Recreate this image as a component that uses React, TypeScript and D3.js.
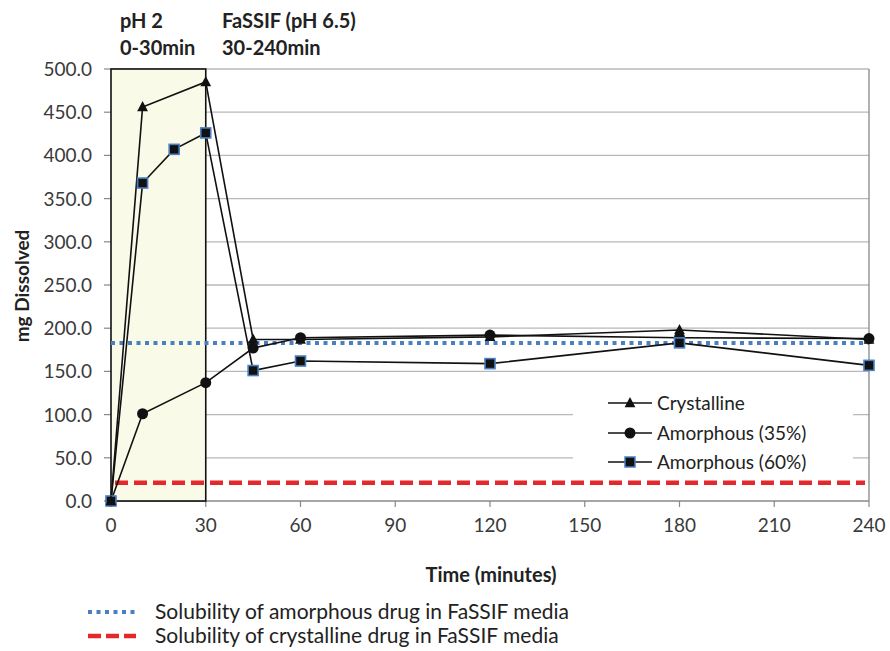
import React from "react";
import * as d3 from "d3";

const crystalline: [number, number][] = [[0, 0], [10, 456], [30, 485], [45, 187], [60, 187], [120, 190], [180, 198], [240, 187]];
const amorphous35: [number, number][] = [[0, 0], [10, 101], [30, 137], [45, 177], [60, 189], [120, 192], [180, 189], [240, 188]];
const amorphous60: [number, number][] = [[0, 0], [10, 368], [20, 407], [30, 426], [45, 151], [60, 162], [120, 159], [180, 183], [240, 157]];
const xTicks = [0, 30, 60, 90, 120, 150, 180, 210, 240];
const yTicks = [0, 50, 100, 150, 200, 250, 300, 350, 400, 450, 500];
const amorphousSolubility = 183;
const crystallineSolubility = 21;
const seriesNames = ["Crystalline", "Amorphous (35%)", "Amorphous (60%)"];
const bottomLegend = ["Solubility of amorphous drug in FaSSIF media", "Solubility of crystalline drug in FaSSIF media"];

const FONT = "Lato, 'Open Sans', sans-serif";

export default function App() {
  const W = 890, H = 651;
  const x = d3.scaleLinear().domain([0, 240]).range([111, 869]);
  const y = d3.scaleLinear().domain([0, 500]).range([501, 69]);
  const line = d3.line<[number, number]>().x(d => x(d[0])).y(d => y(d[1]));
  const grid = "#b8b8b8";
  const tri = (cx: number, cy: number, s = 6) => `M${cx},${cy - s}L${cx + s * 0.9},${cy + s * 0.7}L${cx - s * 0.9},${cy + s * 0.7}Z`;

  const legX = 608;
  const legYs = [403, 433, 462];

  return (
    <svg width={W} height={H} style={{ position: "absolute", left: 0, top: 0, background: "#fff" }} fontFamily={FONT}>
      <rect width={W} height={H} fill="#fff" />
      {yTicks.map(t => (
        <g key={t}>
          <line x1={x(0)} x2={x(240)} y1={y(t)} y2={y(t)} stroke={t === 0 ? "#888" : grid} strokeWidth={1.3} />
          <line x1={x(0) - 7} x2={x(0)} y1={y(t)} y2={y(t)} stroke="#888" strokeWidth={1.2} />
          <text x={92} y={y(t) + 7} textAnchor="end" fontSize={19} fill="#3a3a3a">{t.toFixed(1)}</text>
        </g>
      ))}
      <line x1={x(240)} x2={x(240)} y1={y(500)} y2={y(0)} stroke="#888" strokeWidth={1.3} />
      {xTicks.map(t => (
        <g key={t}>
          <line x1={x(t)} x2={x(t)} y1={y(0)} y2={y(0) + 6} stroke="#888" strokeWidth={1.2} />
          <text x={x(t)} y={532} textAnchor="middle" fontSize={19} fill="#3a3a3a">{t}</text>
        </g>
      ))}
      <rect x={x(0)} y={y(500)} width={x(30) - x(0)} height={y(0) - y(500)} fill="#fafae8" stroke="#111" strokeWidth={1.6} />
      <rect x={573} y={380} width={280} height={96} fill="#fff" />
      <line x1={x(0)} x2={x(240)} y1={y(amorphousSolubility)} y2={y(amorphousSolubility)} stroke="#4a7fc4" strokeWidth={4} strokeDasharray="4 4.5" />
      <line x1={x(0) + 4} x2={x(240) - 4} y1={y(crystallineSolubility)} y2={y(crystallineSolubility)} stroke="#e4282b" strokeWidth={4.5} strokeDasharray="13 6" />
      <path d={line(amorphous35) || ""} fill="none" stroke="#111" strokeWidth={1.6} />
      <path d={line(amorphous60) || ""} fill="none" stroke="#111" strokeWidth={1.6} />
      <path d={line(crystalline) || ""} fill="none" stroke="#111" strokeWidth={1.6} />
      {amorphous35.map((d, i) => <circle key={"c" + i} cx={x(d[0])} cy={y(d[1])} r={5.5} fill="#111" />)}
      {amorphous60.map((d, i) => <rect key={"s" + i} x={x(d[0]) - 5} y={y(d[1]) - 5} width={10} height={10} fill="#111" stroke="#4a7fc4" strokeWidth={1.6} />)}
      {crystalline.map((d, i) => <path key={"t" + i} d={tri(x(d[0]), y(d[1]))} fill="#111" />)}
      {seriesNames.map((n, i) => (
        <g key={n}>
          <line x1={legX} x2={legX + 44} y1={legYs[i]} y2={legYs[i]} stroke="#111" strokeWidth={1.6} />
          {i === 0 && <path d={tri(legX + 22, legYs[i])} fill="#111" />}
          {i === 1 && <circle cx={legX + 22} cy={legYs[i]} r={5.5} fill="#111" />}
          {i === 2 && <rect x={legX + 17} y={legYs[i] - 5} width={10} height={10} fill="#111" stroke="#4a7fc4" strokeWidth={1.5} />}
          <text x={legX + 49} y={legYs[i] + 7} fontSize={19} fill="#222">{n}</text>
        </g>
      ))}
      <text x={120} y={28} fontSize={20} fontWeight="bold" fill="#222">pH 2</text>
      <text x={120} y={55} fontSize={20} fontWeight="bold" fill="#222">0-30min</text>
      <text x={222} y={28} fontSize={20} fontWeight="bold" fill="#222">FaSSIF (pH 6.5)</text>
      <text x={222} y={55} fontSize={20} fontWeight="bold" fill="#222">30-240min</text>
      <text transform={`translate(29,${286}) rotate(-90)`} textAnchor="middle" fontSize={19} fontWeight="bold" fill="#222">mg Dissolved</text>
      <text x={491} y={582} textAnchor="middle" fontSize={20} fontWeight="bold" fill="#222">Time (minutes)</text>
      <line x1={88} x2={136} y1={612} y2={612} stroke="#4a7fc4" strokeWidth={4} strokeDasharray="4 4.5" />
      <text x={155} y={619} fontSize={21} fill="#222">{bottomLegend[0]}</text>
      <line x1={88} x2={136} y1={636} y2={636} stroke="#e4282b" strokeWidth={4.5} strokeDasharray="13 5" />
      <text x={155} y={643} fontSize={21} fill="#222">{bottomLegend[1]}</text>
    </svg>
  );
}
